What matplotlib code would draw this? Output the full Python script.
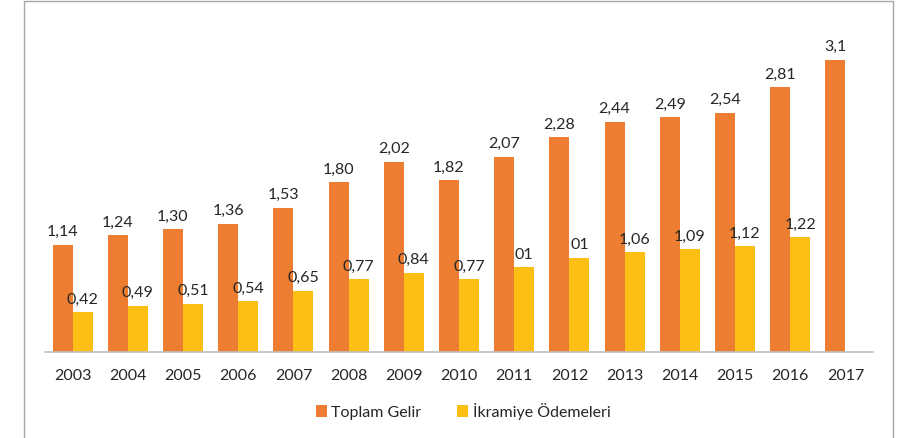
import numpy as np
import matplotlib.pyplot as plt
from matplotlib.patches import Rectangle

years = ['2003', '2004', '2005', '2006', '2007', '2008', '2009', '2010',
         '2011', '2012', '2013', '2014', '2015', '2016', '2017']
toplam_gelir = [1.14, 1.24, 1.30, 1.36, 1.53, 1.80, 2.02, 1.82,
                2.07, 2.28, 2.44, 2.49, 2.54, 2.81, 3.10]
toplam_labels = ['1,14', '1,24', '1,30', '1,36', '1,53', '1,80', '2,02', '1,82',
                 '2,07', '2,28', '2,44', '2,49', '2,54', '2,81', '3,1']
ikramiye = [0.42, 0.49, 0.51, 0.54, 0.65, 0.77, 0.84, 0.77,
            0.90, 1.00, 1.06, 1.09, 1.12, 1.22, np.nan]
ikramiye_labels = ['0,42', '0,49', '0,51', '0,54', '0,65', '0,77', '0,84', '0,77',
                   '01', '01', '1,06', '1,09', '1,12', '1,22', '']

plt.rcParams['font.family'] = ['Lato', 'DejaVu Sans']
FS = 11.5

fig = plt.figure(figsize=(9.08, 4.38), dpi=100)
W, H = 908, 438
ax = fig.add_axes([45 / W, 86 / H, 828 / W, 330 / H])

orange = '#ED7D31'
yellow = '#FDBF14'
x = np.arange(len(years))
bw = 20 / 55.2

b1 = ax.bar(x - bw / 2, toplam_gelir, bw, color=orange, label='Toplam Gelir')
b2 = ax.bar(x + bw / 2, ikramiye, bw, color=yellow, label='İkramiye Ödemeleri')

for rect, lab in zip(b1, toplam_labels):
    ax.annotate(lab, (rect.get_x() + rect.get_width() / 2, rect.get_height()),
                xytext=(0, 4), textcoords='offset points', ha='center', va='bottom',
                fontsize=FS, color='#262626')
for rect, lab in zip(b2, ikramiye_labels):
    h = rect.get_height()
    if not lab or np.isnan(h):
        continue
    ax.annotate(lab, (rect.get_x() + rect.get_width() / 2, h),
                xytext=(0, 4), textcoords='offset points', ha='center', va='bottom',
                fontsize=FS, color='#262626')

ax.set_xlim(-0.5, len(years) - 0.5)
ax.set_ylim(0, 3.5)
ax.set_xticks(x)
ax.set_xticklabels(years, fontsize=FS, color='#262626')
ax.tick_params(axis='x', length=0, pad=12)
ax.set_yticks([])
for s in ['top', 'right', 'left']:
    ax.spines[s].set_visible(False)
ax.spines['bottom'].set_color('#BFBFBF')
ax.spines['bottom'].set_linewidth(1.2)

fig.legend(handles=[b1, b2], loc='center', bbox_to_anchor=(463 / W, 1 - 411 / H),
           ncol=2, frameon=False, fontsize=FS, handlelength=0.7, handleheight=0.7,
           columnspacing=2.2, handletextpad=0.3, labelcolor='#262626')

# outer chart frame
fig.patches.append(Rectangle((24 / W, -0.05), (893 - 24) / W, 1.05 - 1.5 / H,
                             transform=fig.transFigure, fill=False,
                             edgecolor='#A6A6A6', linewidth=1.0))

fig.savefig('out.png', dpi=100)
